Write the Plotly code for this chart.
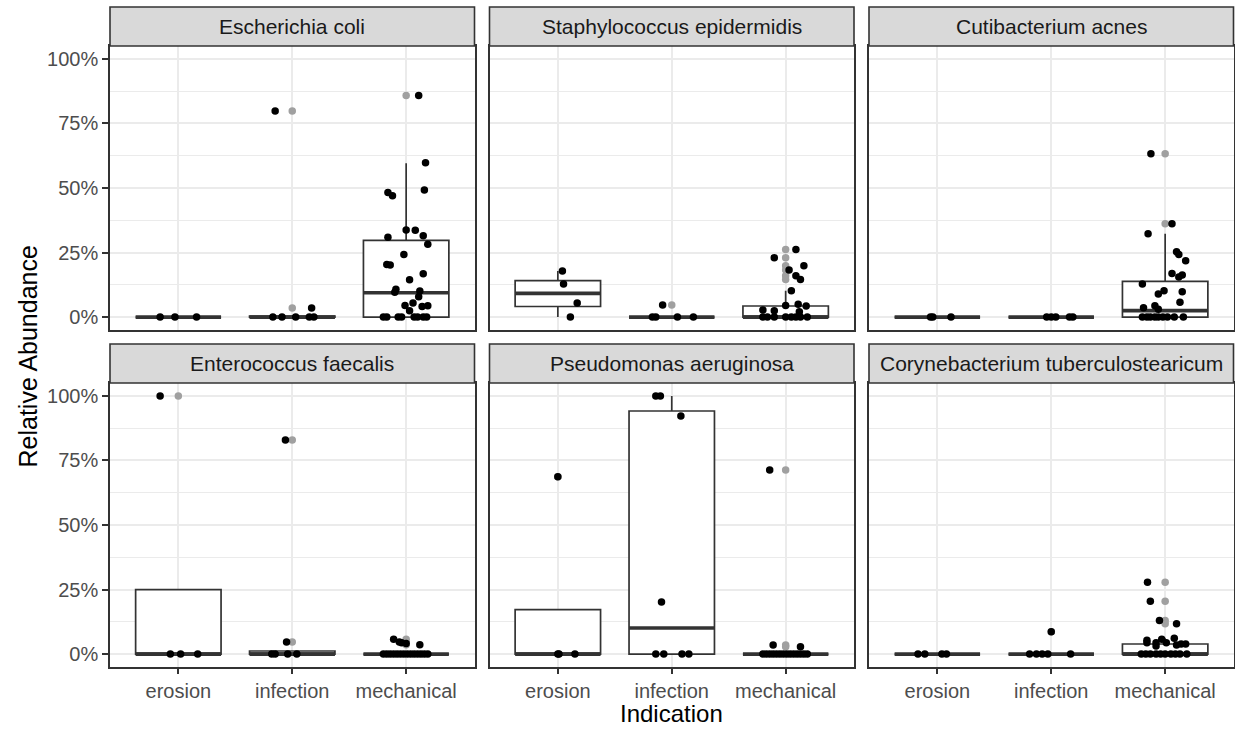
import plotly.graph_objects as go

# ---------------- data ----------------
species = ["Escherichia coli", "Staphylococcus epidermidis", "Cutibacterium acnes",
           "Enterococcus faecalis", "Pseudomonas aeruginosa", "Corynebacterium tuberculostearicum"]
indications = ["erosion", "infection", "mechanical"]
y_tick_values = [0, 0.25, 0.5, 0.75, 1.0]
y_tick_labels = ["0%", "25%", "50%", "75%", "100%"]

# relative abundance (fraction) of each sample, per indication
ecoli_values = {
    "erosion": [0, 0, 0],
    "infection": [0.798, 0.035, 0, 0, 0, 0, 0],
    "mechanical": [0.858, 0.598, 0.483, 0.470, 0.492, 0.337, 0.336, 0.309, 0.315, 0.282,
                   0.242, 0.204, 0.202, 0.168, 0.145, 0.108, 0.096, 0.101, 0.079, 0.045,
                   0.055, 0.025, 0.041, 0.044, 0, 0, 0, 0, 0, 0, 0, 0],
}
sepi_values = {
    "erosion": [0.179, 0.128, 0.055, 0],
    "infection": [0.0465, 0, 0, 0, 0],
    "mechanical": [0.262, 0.230, 0.199, 0.182, 0.160, 0.146, 0.102, 0.045, 0.050, 0.043,
                   0.027, 0.025, 0.021, 0, 0, 0, 0, 0, 0, 0, 0],
}
cacnes_values = {
    "erosion": [0, 0, 0],
    "infection": [0, 0, 0, 0, 0],
    "mechanical": [0.633, 0.362, 0.323, 0.253, 0.242, 0.218, 0.169, 0.155, 0.163, 0.128,
                   0.102, 0.089, 0.098, 0.057, 0.036, 0.044, 0.030,
                   0, 0, 0, 0, 0, 0, 0, 0, 0],
}
efaec_values = {
    "erosion": [1.0, 0, 0, 0],
    "infection": [0.829, 0.0465, 0, 0, 0, 0],
    "mechanical": [0.057, 0.047, 0.044, 0.041, 0.036,
                   0, 0, 0, 0, 0, 0, 0, 0, 0, 0, 0, 0, 0, 0],
}
paer_values = {
    "erosion": [0.687, 0, 0, 0],
    "infection": [1.0, 1.0, 0.922, 0.2016, 0, 0, 0, 0],
    "mechanical": [0.713, 0.035, 0.028, 0, 0, 0, 0, 0, 0, 0, 0, 0, 0, 0, 0, 0, 0],
}
ctub_values = {
    "erosion": [0, 0, 0, 0],
    "infection": [0.0866, 0, 0, 0, 0, 0],
    "mechanical": [0.278, 0.205, 0.130, 0.118, 0.054, 0.044, 0.044, 0.031, 0.057, 0.044,
                   0.061, 0.035, 0.039, 0.039, 0, 0, 0, 0, 0, 0, 0, 0, 0, 0],
}

# horizontal jitter of each sample (category units), as seen in the figure
ecoli_jitter = {
    "erosion": [-0.16, -0.03, 0.16],
    "infection": [-0.15, 0.17, -0.17, -0.09, 0.03, 0.15, 0.19],
    "mechanical": [0.11, 0.17, -0.16, -0.12, 0.16, 0.00, 0.08, -0.16, 0.15, 0.19,
                   -0.02, -0.17, -0.14, 0.15, 0.03, -0.09, -0.10, 0.12, 0.11, -0.01,
                   0.06, 0.03, 0.14, 0.19, -0.20, -0.17, -0.07, -0.04, 0.07, 0.10, 0.15, 0.18],
}
sepi_jitter = {
    "erosion": [0.04, 0.05, 0.17, 0.11],
    "infection": [-0.08, -0.17, -0.14, 0.05, 0.19],
    "mechanical": [0.09, -0.10, 0.16, 0.03, 0.09, 0.13, 0.05, 0.00, 0.11, 0.18,
                   -0.20, -0.10, 0.12, -0.20, -0.16, -0.10, 0.00, 0.05, 0.09, 0.13, 0.19],
}
cacnes_jitter = {
    "erosion": [-0.06, -0.04, 0.12],
    "infection": [-0.04, 0.00, 0.04, 0.16, 0.19],
    "mechanical": [-0.125, 0.06, -0.15, 0.10, 0.12, 0.18, 0.06, 0.12, 0.15, -0.20,
                   -0.01, -0.06, 0.15, 0.13, -0.19, -0.09, -0.06,
                   -0.20, -0.16, -0.13, -0.09, -0.06, -0.02, 0.02, 0.08, 0.16],
}
efaec_jitter = {
    "erosion": [-0.16, -0.07, 0.02, 0.17],
    "infection": [-0.06, -0.05, -0.18, -0.15, -0.04, 0.04],
    "mechanical": [-0.11, -0.06, -0.04, 0.00, 0.12,
                   -0.20, -0.17, -0.14, -0.11, -0.08, -0.05, -0.02, 0.01, 0.04, 0.07,
                   0.10, 0.13, 0.16, 0.19],
}
paer_jitter = {
    "erosion": [0.00, 0.00, 0.15, 0.01],
    "infection": [-0.14, -0.10, 0.08, -0.09, -0.14, -0.07, 0.09, 0.15],
    "mechanical": [-0.14, -0.11, 0.13, -0.20, -0.17, -0.14, -0.11, -0.08, -0.05, -0.02,
                   0.01, 0.04, 0.07, 0.10, 0.13, 0.16, 0.19],
}
ctub_jitter = {
    "erosion": [-0.17, -0.11, 0.04, 0.08],
    "infection": [0.00, -0.19, -0.13, -0.08, -0.03, 0.17],
    "mechanical": [-0.155, -0.13, -0.05, 0.10, -0.16, -0.16, -0.08, -0.08, -0.03, 0.01,
                   0.08, 0.10, 0.14, 0.18, -0.21, -0.17, -0.13, -0.08, -0.04, 0.00,
                   0.05, 0.09, 0.13, 0.19],
}

# box statistics per indication (erosion, infection, mechanical)
ecoli_box = dict(q1=[0, 0, 0], median=[0, 0, 0.094], q3=[0, 0.004, 0.297],
                 lower=[0, 0, 0], upper=[0, 0.004, 0.596])
sepi_box = dict(q1=[0.041, 0, 0], median=[0.092, 0, 0], q3=[0.141, 0, 0.043],
                lower=[0, 0, 0], upper=[0.179, 0, 0.102])
cacnes_box = dict(q1=[0, 0, 0], median=[0, 0, 0.025], q3=[0, 0, 0.138],
                  lower=[0, 0, 0], upper=[0, 0, 0.323])
efaec_box = dict(q1=[0, 0, 0], median=[0, 0, 0], q3=[0.25, 0.012, 0],
                 lower=[0, 0, 0], upper=[0.25, 0.012, 0])
paer_box = dict(q1=[0, 0, 0], median=[0, 0.1008, 0], q3=[0.172, 0.9415, 0],
                lower=[0, 0, 0], upper=[0.172, 1.0, 0])
ctub_box = dict(q1=[0, 0, 0], median=[0, 0, 0], q3=[0, 0, 0.039],
                lower=[0, 0, 0], upper=[0, 0, 0.061])

all_values = [ecoli_values, sepi_values, cacnes_values, efaec_values, paer_values, ctub_values]
all_jitter = [ecoli_jitter, sepi_jitter, cacnes_jitter, efaec_jitter, paer_jitter, ctub_jitter]
all_boxes = [ecoli_box, sepi_box, cacnes_box, efaec_box, paer_box, ctub_box]

# ---------------- layout geometry / styles ----------------
W, H = 1235, 729
col_px = [(110, 474.5), (489.5, 854), (869, 1233.5)]
row_px = [(46, 330), (383, 667)]
strip_px = [(7, 46), (344, 383)]
BOX_W = 0.75
FONT = "Liberation Sans, Arial, Helvetica, sans-serif"
DARK = "#333333"
GRID = "#EBEBEB"
TICKTXT = "#4D4D4D"
OUTLIER = "#A0A0A0"
STRIP_TXT = 21
TICK_TXT = 20
TITLE = 24
MSIZE = 7.5


def fx(p):
    return p / W


def fy(p):
    return 1 - p / H


fig = go.Figure()
cat_pos = [1, 2, 3]

for i, sp in enumerate(species):
    xa = "x" if i == 0 else f"x{i+1}"
    ya = "y" if i == 0 else f"y{i+1}"
    vals, jit, bx = all_values[i], all_jitter[i], all_boxes[i]

    fig.add_trace(go.Box(
        x=cat_pos, q1=bx["q1"], median=bx["median"], q3=bx["q3"],
        lowerfence=bx["lower"], upperfence=bx["upper"], orientation="v",
        width=BOX_W, whiskerwidth=0, boxpoints=False,
        fillcolor="white", line=dict(color=DARK, width=1.7),
        xaxis=xa, yaxis=ya, showlegend=False, hoverinfo="skip"))

    # thick median segments (ggplot fatten)
    mx, my = [], []
    for c, m in zip(cat_pos, bx["median"]):
        mx += [c - BOX_W / 2, c + BOX_W / 2, None]
        my += [m, m, None]
    fig.add_trace(go.Scatter(x=mx, y=my, mode="lines", line=dict(color=DARK, width=3.6),
                             xaxis=xa, yaxis=ya, showlegend=False, hoverinfo="skip"))

    # outliers (beyond 1.5 IQR) at category centre
    ox, oy = [], []
    for j, ind in enumerate(indications):
        iqr = bx["q3"][j] - bx["q1"][j]
        hi = bx["q3"][j] + 1.5 * iqr
        lo = bx["q1"][j] - 1.5 * iqr
        for v in vals[ind]:
            if v > hi + 1e-9 or v < lo - 1e-9:
                ox.append(cat_pos[j])
                oy.append(v)
    fig.add_trace(go.Scatter(x=ox, y=oy, mode="markers",
                             marker=dict(color=OUTLIER, size=MSIZE, line=dict(width=0)),
                             xaxis=xa, yaxis=ya, showlegend=False, hoverinfo="skip"))

    # jittered samples
    px_, py_ = [], []
    for j, ind in enumerate(indications):
        for v, d in zip(vals[ind], jit[ind]):
            px_.append(cat_pos[j] + d)
            py_.append(v)
    fig.add_trace(go.Scatter(x=px_, y=py_, mode="markers",
                             marker=dict(color="black", size=MSIZE, line=dict(width=0)),
                             xaxis=xa, yaxis=ya, showlegend=False, hoverinfo="skip"))

layout = dict(
    width=W, height=H, autosize=False,
    margin=dict(l=0, r=0, t=0, b=0),
    paper_bgcolor="white", plot_bgcolor="white",
    font=dict(family=FONT, color=TICKTXT, size=TICK_TXT),
    shapes=[], annotations=[],
)

for i, sp in enumerate(species):
    r, c = divmod(i, 3)
    xk = "xaxis" if i == 0 else f"xaxis{i+1}"
    yk = "yaxis" if i == 0 else f"yaxis{i+1}"
    ya = "y" if i == 0 else f"y{i+1}"
    xa = "x" if i == 0 else f"x{i+1}"
    bottom = r == 1
    left = c == 0
    layout[xk] = dict(
        domain=[fx(col_px[c][0]), fx(col_px[c][1])], anchor=ya,
        range=[0.4, 3.6], tickmode="array", tickvals=cat_pos, ticktext=indications,
        showticklabels=bottom, ticks="outside" if bottom else "", ticklen=5, tickwidth=1.5,
        tickcolor=DARK, showgrid=True, gridcolor=GRID, gridwidth=2, zeroline=False,
        showline=True, linecolor=DARK, linewidth=1.6, mirror=True,
        tickfont=dict(size=TICK_TXT, color=TICKTXT, family=FONT), fixedrange=True)
    layout[yk] = dict(
        domain=[fy(row_px[r][1]), fy(row_px[r][0])], anchor=xa,
        range=[-0.05, 1.05], tickmode="array", tickvals=y_tick_values, ticktext=y_tick_labels,
        showticklabels=left, ticks="outside" if left else "", ticklen=6, tickwidth=1.5,
        tickcolor=DARK, showgrid=True, gridcolor=GRID, gridwidth=2, zeroline=False,
        showline=True, linecolor=DARK, linewidth=1.6, mirror=True,
        minor=dict(tickmode="array", tickvals=[0.125, 0.375, 0.625, 0.875], showgrid=True,
                   gridcolor=GRID, gridwidth=1, ticks=""),
        tickfont=dict(size=TICK_TXT, color=TICKTXT, family=FONT), fixedrange=True)
    # strip
    layout["shapes"].append(dict(
        type="rect", xref="paper", yref="paper",
        x0=fx(col_px[c][0]), x1=fx(col_px[c][1]), y0=fy(strip_px[r][1]), y1=fy(strip_px[r][0]),
        fillcolor="#D9D9D9", line=dict(color=DARK, width=1.6), layer="above"))
    layout["annotations"].append(dict(
        text=sp, xref="paper", yref="paper", showarrow=False,
        x=fx((col_px[c][0] + col_px[c][1]) / 2), y=fy((strip_px[r][0] + strip_px[r][1]) / 2),
        xanchor="center", yanchor="middle",
        font=dict(size=STRIP_TXT, color="#1A1A1A", family=FONT)))

layout["annotations"].append(dict(
    text="Relative Abundance", xref="paper", yref="paper", showarrow=False,
    x=fx(27), y=fy((row_px[0][0] + row_px[1][1]) / 2), textangle=-90,
    xanchor="center", yanchor="middle", font=dict(size=25, color="black", family=FONT)))
layout["annotations"].append(dict(
    text="Indication", xref="paper", yref="paper", showarrow=False,
    x=fx((col_px[0][0] + col_px[2][1]) / 2), y=0,
    xanchor="center", yanchor="bottom", font=dict(size=TITLE, color="black", family=FONT)))

fig.update_layout(**layout)
fig.write_html("out.html", config={"displayModeBar": False},
               post_script="document.body.style.margin='0';document.body.style.overflow='hidden';")
